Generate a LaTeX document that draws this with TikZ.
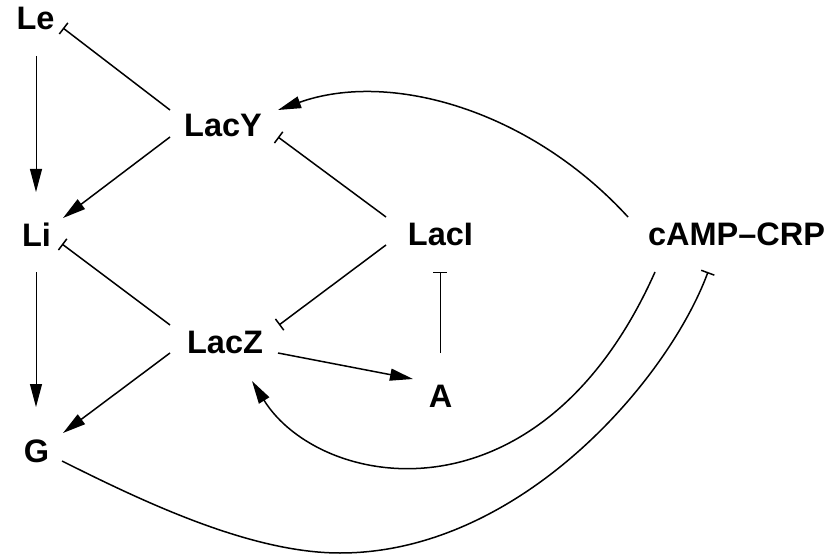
\documentclass[tikz,border=0pt]{standalone}
\usepackage{fontspec}
\setmainfont{Liberation Sans}
\usetikzlibrary{arrows.meta}
\tikzset{
  lbl/.style={anchor=base, inner sep=0pt, font=\fontsize{32.5}{32.5}\selectfont\bfseries},
  conn/.style={line width=1.5pt, black},
  thin/.style={line width=1pt},
  act/.style={conn, -{Triangle[length=23pt,width=12pt]}},
  inh/.style={conn, -{Bar[width=14pt]}},
}
\begin{document}
\begin{tikzpicture}[x=1pt,y=-1pt]
\useasboundingbox (0,0) rectangle (838,556);
% nodes
\node[lbl] (Le)   at (35.5,30)  {Le};
\node[lbl] (LacY) at (223,137)  {LacY};
\node[lbl] (Li)   at (36.5,247) {Li};
\node[lbl] (LacI) at (440.5,245){LacI};
\node[lbl] (CRP)  at (736.5,246){cAMP–CRP};
\node[lbl] (LacZ) at (225,353)  {LacZ};
\node[lbl] (A)    at (440.5,407){A};
\node[lbl] (G)    at (36.5,462) {G};
% straight connectors
\draw[act,thin] ([shift={(0.5,26)}]Le.base) -- ([shift={(-0.5,-55)}]Li.base);
\draw[inh] ([shift={(-53,-27)}]LacY.base) -- ([shift={(27.5,-2)}]Le.base);
\draw[act] ([shift={(-53,0)}]LacY.base) -- ([shift={(26.5,-29)}]Li.base);
\draw[inh] ([shift={(-54.5,-28)}]LacI.base) -- ([shift={(55,0)}]LacY.base);
\draw[inh] ([shift={(-54.5,0)}]LacI.base) -- ([shift={(54,-28)}]LacZ.base);
\draw[inh] ([shift={(-55,-28)}]LacZ.base) -- ([shift={(25.5,-3)}]Li.base);
\draw[act] ([shift={(-55,0)}]LacZ.base) -- ([shift={(26.5,-29)}]G.base);
\draw[act,thin] ([shift={(-0.5,25)}]Li.base) -- ([shift={(-0.5,-55)}]G.base);
\draw[act] ([shift={(53,0)}]LacZ.base) -- ([shift={(-27.5,-28)}]A.base);
\draw[inh,thin] ([shift={(-0.5,-54)}]A.base) -- ([shift={(-0.5,27)}]LacI.base);
% curved connectors
\draw[act] ([shift={(-108.5,-29)}]CRP.base) .. controls (530,110) and (390,70) .. ([shift={(55,-27)}]LacY.base);
\draw[act] ([shift={(-81.5,26)}]CRP.base) .. controls (540,530) and (320,490) .. ([shift={(27,28)}]LacZ.base);
\coordinate (low) at (340,553);
\draw[inh] ([shift={(25.5,-1)}]G.base) .. controls (142,501) and (250,553) .. (low)
  .. controls (520,553) and (668,380) .. ([shift={(-28.5,26)}]CRP.base);
\end{tikzpicture}
\end{document}
